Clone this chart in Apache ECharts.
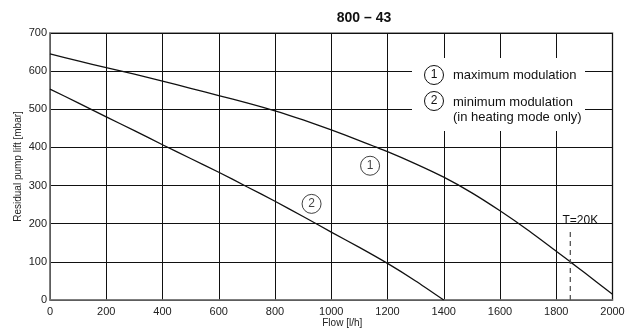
<!DOCTYPE html>
<html>
<head>
<meta charset="utf-8">
<script src="https://cdn.jsdelivr.net/npm/echarts@6/dist/echarts.min.js"></script>
<style>html,body{margin:0;padding:0;background:#fff}#c{width:632px;height:333px}</style>
</head>
<body>
<div id="c"></div>
<script>
// Data
var flowMax = [0, 100, 200, 300, 400, 500, 600, 700, 800, 900, 1000, 1100, 1200, 1300, 1400, 1500, 1600, 1700, 1800, 1850, 1900, 2000];
var liftMax = [645, 627, 609, 592, 574, 555, 536, 517, 496, 472, 446, 418, 389, 357, 322, 281, 234, 183, 128, 100, 72, 15];
var flowMin = [0, 100, 200, 300, 400, 500, 600, 700, 800, 900, 1000, 1100, 1200, 1300, 1400];
var liftMin = [553, 517, 480, 444, 407, 371, 335, 297, 259, 219, 178, 138, 96, 50, 0];
var deltaTFlow = [1850, 1850];
var deltaTLift = [0, 188];
var xTicks = [0, 2000, 200];
var yTicks = [0, 700, 100];
var title = '800 – 43';
var legendTexts = ['maximum modulation', 'minimum modulation', '(in heating mode only)'];
var curveMarks = [[1138, 352, '1'], [930, 252, '2']];

var FONT = '"Liberation Sans", Arial, Helvetica, sans-serif';
function zip(a, b) { return a.map(function (v, i) { return [v, b[i]]; }); }

var chart = echarts.init(document.getElementById('c'), null, { renderer: 'canvas' });
chart.setOption({
  backgroundColor: '#fff',
  animation: false,
  title: {
    text: title, left: 359, top: 6, textAlign: 'center',
    textStyle: { fontFamily: FONT, fontSize: 14, fontWeight: 'bold', color: '#111' }
  },
  grid: { left: 50, right: 19.5, top: 33, bottom: 33, show: true, borderColor: '#777', borderWidth: 1.5, backgroundColor: 'transparent' },
  xAxis: {
    type: 'value', min: xTicks[0], max: xTicks[1], interval: xTicks[2],
    name: 'Flow [l/h]', nameLocation: 'middle', nameGap: 18, nameMoveOverlap: false,
    nameTextStyle: { fontFamily: FONT, fontSize: 10, color: '#222', padding: [0, 0, 0, 22] },
    axisLine: { show: true, lineStyle: { color: '#777', width: 1.5 } },
    axisTick: { show: false },
    axisLabel: { fontFamily: FONT, fontSize: 11, color: '#222', margin: 6, formatter: function (v) { return String(v); } },
    splitLine: { show: true, lineStyle: { color: '#111', width: 1 } }
  },
  yAxis: {
    type: 'value', min: yTicks[0], max: yTicks[1], interval: yTicks[2],
    name: 'Residual pump lift [mbar]', nameLocation: 'middle', nameGap: 27, nameMoveOverlap: false,
    nameTextStyle: { fontFamily: FONT, fontSize: 10, color: '#222' },
    axisLine: { show: true, lineStyle: { color: '#777', width: 1.5 } },
    axisTick: { show: false },
    axisLabel: { fontFamily: FONT, fontSize: 11, color: '#222', margin: 3, formatter: function (v) { return String(v); } },
    splitLine: { show: true, lineStyle: { color: '#111', width: 1 } }
  },
  series: [
    {
      type: 'line', data: zip(flowMax, liftMax), smooth: 0.2, showSymbol: false, z: 3,
      lineStyle: { color: '#111', width: 1.3 }
    },
    {
      type: 'line', data: zip(flowMin, liftMin), smooth: 0.2, showSymbol: false, z: 3,
      lineStyle: { color: '#111', width: 1.3 }
    },
    {
      type: 'line', data: zip(deltaTFlow, deltaTLift), showSymbol: false, z: 3,
      lineStyle: { color: '#555', width: 1.3, type: [5, 4] },
      markPoint: {
        symbol: 'circle', symbolSize: 0,
        data: [{ coord: [deltaTFlow[1], deltaTLift[1]], value: 'T=20K' }],
        label: { show: true, position: 'top', distance: 2, offset: [10, 0], formatter: 'T=20K',
          fontFamily: FONT, fontSize: 12, color: '#111' }
      }
    },
    {
      type: 'scatter', z: 5,
      data: curveMarks.map(function (m) { return { value: [m[0], m[1]], name: m[2] }; }),
      symbol: 'circle', symbolSize: 19,
      itemStyle: { color: '#fff', borderColor: '#111', borderWidth: 1 },
      label: { show: true, position: 'inside', formatter: function (p) { return p.name; },
        fontFamily: FONT, fontSize: 12, color: '#111' }
    }
  ],
  graphic: [
    { type: 'rect', shape: { x: 412, y: 58, width: 173, height: 73 }, style: { fill: '#fff' }, z: 10 },
    { type: 'circle', shape: { cx: 434, cy: 75, r: 9.5 }, style: { fill: '#fff', stroke: '#111', lineWidth: 1 }, z: 11 },
    { type: 'text', x: 434, y: 75, style: { text: '1', fontFamily: FONT, fontSize: 12, fill: '#111', align: 'center', verticalAlign: 'middle' }, z: 12 },
    { type: 'circle', shape: { cx: 434, cy: 101, r: 9.5 }, style: { fill: '#fff', stroke: '#111', lineWidth: 1 }, z: 11 },
    { type: 'text', x: 434, y: 101, style: { text: '2', fontFamily: FONT, fontSize: 12, fill: '#111', align: 'center', verticalAlign: 'middle' }, z: 12 },
    { type: 'text', x: 453, y: 75, style: { text: legendTexts[0], fontFamily: FONT, fontSize: 13, fill: '#111', verticalAlign: 'middle' }, z: 12 },
    { type: 'text', x: 453, y: 102, style: { text: legendTexts[1], fontFamily: FONT, fontSize: 13, fill: '#111', verticalAlign: 'middle' }, z: 12 },
    { type: 'text', x: 453, y: 117, style: { text: legendTexts[2], fontFamily: FONT, fontSize: 13, fill: '#111', verticalAlign: 'middle' }, z: 12 }
  ]
});
</script>
</body>
</html>
